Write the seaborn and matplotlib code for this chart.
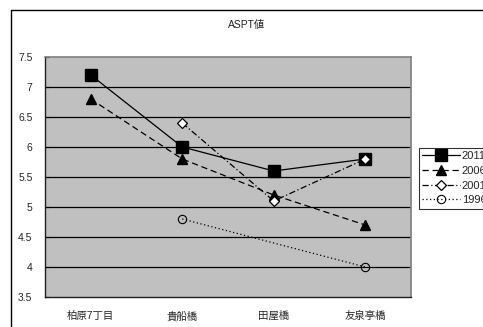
import numpy as np
import pandas as pd
import matplotlib
matplotlib.use("Agg")
import matplotlib.pyplot as plt
from matplotlib.lines import Line2D
import seaborn as sns

# Sampling sites and ASPT scores per survey year
sites = ["柏原7丁目", "貴船橋", "田屋橋", "友泉亭橋"]
years = ["2011", "2006", "2001", "1996"]
aspt_2011 = [7.2, 6.0, 5.6, 5.8]
aspt_2006 = [6.8, 5.8, 5.2, 4.7]
aspt_2001 = [np.nan, 6.4, 5.1, 5.8]
aspt_1996 = [np.nan, 4.8, np.nan, 4.0]
yticks = [3.5, 4, 4.5, 5, 5.5, 6, 6.5, 7, 7.5]

series = {"2011": aspt_2011, "2006": aspt_2006, "2001": aspt_2001, "1996": aspt_1996}

sns.set_theme(style="white")
plt.rcParams["font.family"] = ["Liberation Sans", "Noto Sans CJK JP", "DejaVu Sans"]

styles = {
    "2011": dict(linestyle="-", marker="s", markersize=8, mfc="black", mec="black"),
    "2006": dict(linestyle=(0, (5, 3)), marker="^", markersize=7, mfc="black", mec="black"),
    "2001": dict(linestyle=(0, (5, 2, 1, 2)), marker="D", markersize=5, mfc="white", mec="black", mew=0.9),
    "1996": dict(linestyle=(0, (1, 2)), marker="o", markersize=6, mfc="none", mec="black", mew=0.8),
}

rows = []
for y in years:
    for i, (s, v) in enumerate(zip(sites, series[y])):
        rows.append({"year": y, "pos": i, "site": s, "aspt": v})
df = pd.DataFrame(rows)

fig = plt.figure(figsize=(4.83, 3.27), dpi=100)
ax = fig.add_axes([45 / 483, 30 / 327, 366 / 483, 240 / 327])
ax.set_facecolor("#C0C0C0")

for y in years:
    d = df[(df["year"] == y)].dropna(subset=["aspt"])
    st = styles[y]
    sns.lineplot(data=d, x="pos", y="aspt", ax=ax, color="black", linewidth=0.9,
                 linestyle=st["linestyle"], sort=False, estimator=None, legend=False)
    ln = ax.lines[-1]
    ln.set_marker(st["marker"])
    ln.set_markersize(st["markersize"])
    ln.set_markerfacecolor(st["mfc"])
    ln.set_markeredgecolor(st["mec"])
    ln.set_markeredgewidth(st.get("mew", 1.0))
    ln.set_label(y)
    ln.set_clip_on(False)

ax.set_xlim(-0.5, len(sites) - 0.5)
ax.set_ylim(3.5, 7.5)
ax.set_yticks(yticks)
ax.set_yticklabels([f"{t:g}" for t in yticks], fontsize=7.5)
ax.set_xticks(range(len(sites)))
ax.set_xticklabels(sites, fontsize=7.5)
ax.set_xticks(np.arange(0.5, len(sites) - 1, 1.0), minor=True)
ax.tick_params(axis="x", which="major", length=0, pad=10)
ax.tick_params(axis="x", which="minor", direction="in", length=3, width=0.8, color="black")
ax.tick_params(axis="y", direction="in", length=3, width=0.8, color="black", pad=9, left=True)
ax.set_xlabel("")
ax.set_ylabel("")

for t in yticks[1:-1]:
    ax.axhline(t, color="black", linewidth=0.9, zorder=0.5)

for side in ["left", "bottom"]:
    ax.spines[side].set_color("#202020")
    ax.spines[side].set_linewidth(1.0)
for side in ["top", "right"]:
    ax.spines[side].set_color("#808080")
    ax.spines[side].set_linewidth(1.2)

# Outer chart frame
fig.add_artist(Line2D([11 / 483, 11 / 483], [0, 1 - 10 / 327], color="black", linewidth=1.0,
                      transform=fig.transFigure))
fig.add_artist(Line2D([11 / 483, 1], [1 - 10 / 327, 1 - 10 / 327], color="black", linewidth=1.0,
                      transform=fig.transFigure))

fig.text(247 / 483, 1 - 25 / 327, "ASPT値", ha="center", va="center", fontsize=7.5)

handles = [ax.lines[i] for i in range(len(years))]
leg = fig.legend(handles, years, loc="upper left", bbox_to_anchor=(419 / 483, 1 - 148 / 327),
                 fontsize=8, frameon=True, fancybox=False, handlelength=3.4, handletextpad=0.15,
                 borderpad=0.3, labelspacing=0.42, borderaxespad=0)
leg.get_frame().set_edgecolor("black")
leg.get_frame().set_linewidth(0.8)

fig.savefig("out.png", dpi=100)
